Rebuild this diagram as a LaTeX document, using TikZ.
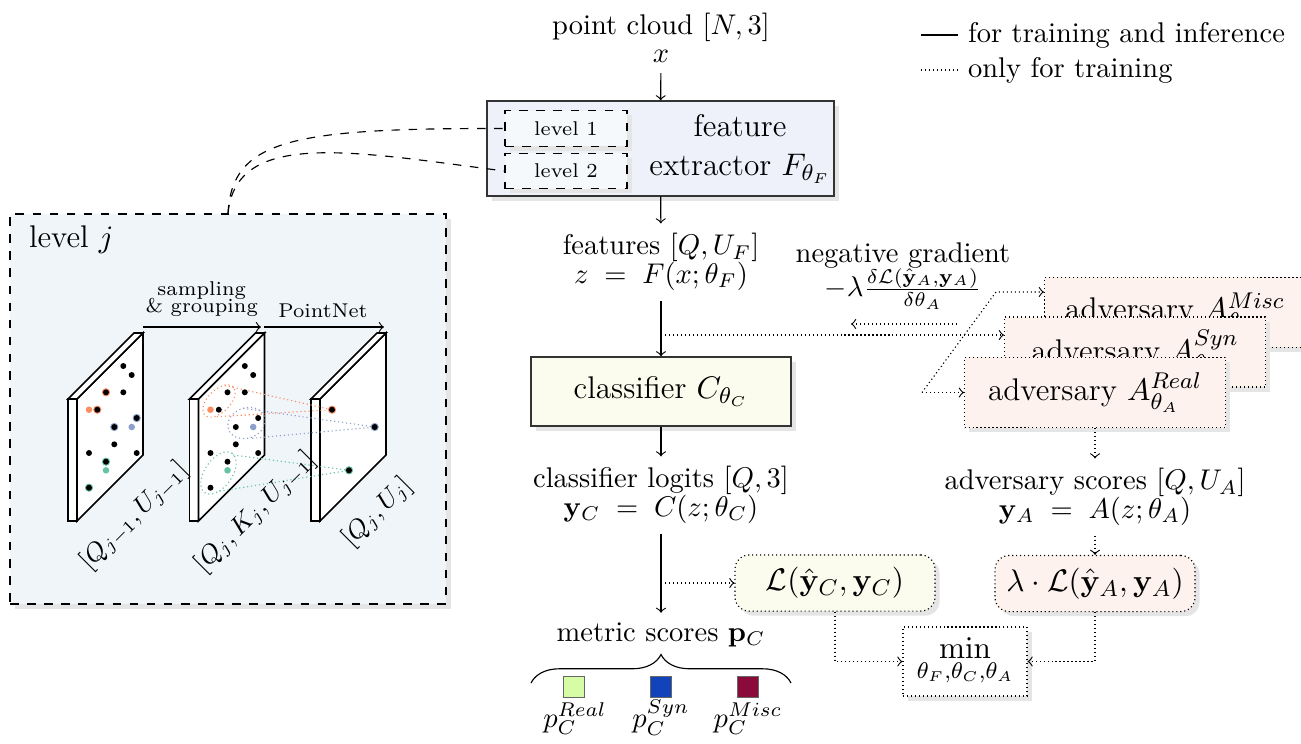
\documentclass[tikz,border=0pt]{standalone}
\usetikzlibrary{shadows,decorations.pathreplacing}

\definecolor{orangeC}{HTML}{FC8D62}
\definecolor{blueC}{HTML}{8DA0CB}
\definecolor{greenC}{HTML}{66C2A5}
\definecolor{levelbg}{RGB}{240,245,250}
\definecolor{extbg}{RGB}{238,240,250}
\definecolor{lvlbg}{RGB}{246,249,252}
\definecolor{clsbg}{RGB}{252,252,238}
\definecolor{advbg}{RGB}{253,242,237}
\definecolor{realC}{RGB}{214,252,165}
\definecolor{synC}{RGB}{17,68,187}
\definecolor{miscC}{RGB}{139,10,60}

\begin{document}
\begin{tikzpicture}[x=0.351pt,y=-0.351pt,
    shad/.style={drop shadow={shadow xshift=1.6pt,shadow yshift=-1.6pt,fill=black!10,opacity=1}},
    mainbox/.style={draw=black!80, line width=0.5pt, shad},
    lvlbox/.style={draw, dashed, fill=lvlbg, shad, minimum width=42.8pt, minimum height=12.4pt, font=\scriptsize},
    advbox/.style={draw, densely dotted, fill=advbg, shad, minimum width=91.6pt, minimum height=24.6pt, font=\fontsize{11}{13}\selectfont},
    lossbox/.style={draw, densely dotted, rounded corners=5pt, shad, minimum width=70.2pt, minimum height=19.7pt, font=\fontsize{11}{13}\selectfont},
    train/.style={densely dotted, ->},
    slab/.style={fill=white, draw, line width=0.6pt},
    sq/.style={draw=black!60, minimum size=7.4pt, inner sep=0pt},
    dimlabel/.style={rotate=45, anchor=north, font=\small}
]
\useasboundingbox (0,0) rectangle (1301,743);

% Legend
\node[anchor=west] (leg1) at (958,35) {for training and inference};
\node[anchor=west] (leg2) at (958,70) {only for training};
\coordinate (lg1) at (921,35);
\coordinate (lg2) at (921,70);
\draw (lg1) -- (leg1.west);
\draw[densely dotted] (lg2) -- (leg2.west);

% Level j detail
\node[draw, dashed, fill=levelbg, shad, minimum width=153pt, minimum height=136.9pt] (lvj) at (228,409) {};
\node[anchor=west, font=\fontsize{11}{13}\selectfont] (lvjt) at (19,240) {level $j$};

% Slabs
\foreach \sx in {68,189.5,311} {
    \draw[slab] (\sx,399) rectangle (\sx+9,521);
    \draw[slab] (\sx+9,399) -- (\sx+75,333) -- (\sx+75,455) -- (\sx+9,521) -- cycle;
    \draw[slab] (\sx,399) -- (\sx+66,333) -- (\sx+75,333) -- (\sx+9,399) -- cycle;
}

% Arrows between slabs
\coordinate (t1) at (143,327);
\coordinate (t2) at (261,327);
\coordinate (t3) at (384,327);
\draw[->] (t1) -- (t2);
\draw[->] ([xshift=1pt]t2) -- (t3);
\node[font=\scriptsize, align=center] (smp) at (201.7,299) {sampling\\[-2pt]\& grouping};
\node[font=\scriptsize] (pnet) at (323,311) {PointNet};

% Groups (sampling & grouping)
\draw[orangeC, densely dotted, shift={(219,401)}, rotate=45] (0,0) ellipse (7pt and 3.9pt);
\draw[orangeC, densely dotted] (225,385.5) -- (331.7,409.7) -- (216.5,416.7);
\draw[blueC, densely dotted, shift={(246.5,423)}, rotate=20] (0,0) ellipse (6.7pt and 5.3pt);
\draw[blueC, densely dotted] (243.3,408.3) -- (375,427) -- (251.7,438.3);
\draw[greenC, densely dotted, shift={(218.5,473)}, rotate=55] (0,0) ellipse (8.4pt and 4.8pt);
\draw[greenC, densely dotted] (233.3,455) -- (349.3,470.3) -- (216.7,491.7);

% Points
\foreach \dx/\dy/\col in {38/392.3/orangeC, 29.3/409.7/orangeC, 68.7/418/blueC, 46.3/427/blueC, 38/461.7/greenC, 21/487.7/greenC}
    \fill[\col] (68+\dx,\dy) circle (1.45pt);
\foreach \sx in {68,189.5} {
    \foreach \dx/\dy in {55.3/366, 63.7/375, 55.3/392.3, 46.3/444.3, 21/453, 68.7/453, 38/392.3, 29.3/409.7, 68.7/418, 46.3/427, 38/461.7, 21/487.7}
        \fill (\sx+\dx,\dy) circle (1.05pt);
    \foreach \dx/\dy/\col in {21/409.7/orangeC, 63.7/427/blueC, 38/470.3/greenC}
        \fill[\col] (\sx+\dx,\dy) circle (1.15pt);
}
\foreach \dx/\dy/\col in {21/409.7/orangeC, 63.7/427/blueC, 38/470.3/greenC} {
    \fill[\col] (311+\dx,\dy) circle (1.45pt);
    \fill (311+\dx,\dy) circle (1.05pt);
}

% Dimensions
\node[dimlabel] (dim1) at (118,500) {$[Q_{j-1},U_{j-1}]$};
\node[dimlabel] (dim2) at (239,496) {$[Q_j,K_j,U_{j-1}]$};
\node[dimlabel] (dim3) at (361,496) {$[Q_j,U_j]$};

% Main column
\node[align=center] (pc) at (661,38) {point cloud $[N,3]$\\[-2pt] $x$};
\node[mainbox, fill=extbg, minimum width=121.8pt, minimum height=33.3pt] (fe) at (660.5,148.5) {};
\node[align=center, font=\fontsize{11}{13.5}\selectfont] (fet) at (740,149) {feature\\ extractor $F_{\theta_F}$};
\node[lvlbox] (l1) at (566,128.5) {level 1};
\node[lvlbox] (l2) at (566,171) {level 2};
\node[align=center] (feat) at (661,262) {features $[Q,U_F]$\\[-2pt] $z\;=\;F(x;\theta_F)$};
\node[mainbox, fill=clsbg, minimum width=91.3pt, minimum height=24.2pt, font=\fontsize{11}{13}\selectfont] (cls) at (661,391.5) {classifier $C_{\theta_C}$};
\node[align=center] (logits) at (661,495) {classifier logits $[Q,3]$\\[-2pt] $\mathbf{y}_C\;=\;C(z;\theta_C)$};
\node (metric) at (661,635) {metric scores $\mathbf{p}_C$};

\draw[->] (pc) -- (fe);
\draw[->] (fe) -- (feat);
\draw[->] (feat) -- (cls);
\draw[->] (cls) -- (logits);
\draw[->] (logits) -- (metric);

% Levels of the extractor
\draw[dashed] (lvj.north) .. controls (232,140) and (290,128) .. (l1.west);
\draw[dashed] (lvj.north) .. controls (236,128) and (356,152) .. (l2.west);

% Metric scores
\draw[decorate, decoration={brace, amplitude=10pt}] (531,683) -- (791,683);
\node[sq, fill=realC] (sqr) at (574,687) {};
\node[sq, fill=synC] (sqs) at (661,687) {};
\node[sq, fill=miscC] (sqm) at (748,687) {};
\node[anchor=base] (pr) at (575,727) {$p^{Real}_C$};
\node[anchor=base] (ps) at (661,727) {$p^{Syn}_C$};
\node[anchor=base] (pm) at (748,727) {$p^{Misc}_C$};

% Adversaries
\node[advbox] (misc) at (1175,312.3) {adversary $A^{Misc}_{\theta_A}$};
\node[advbox] (syn) at (1135,352) {adversary $A^{Syn}_{\theta_A}$};
\node[advbox] (real) at (1095,392.5) {adversary $A^{Real}_{\theta_A}$};
\node[align=center] (neg) at (903,276) {negative gradient\\[-1pt] $-\lambda\frac{\delta\mathcal{L}(\hat{\mathbf{y}}_A,\mathbf{y}_A)}{\delta\theta_A}$};
\node[align=center] (ascores) at (1095,497) {adversary scores $[Q,U_A]$\\[-2pt] $\mathbf{y}_A\;=\;A(z;\theta_A)$};

% Losses
\node[lossbox, fill=clsbg] (lc) at (835,583) {$\mathcal{L}(\hat{\mathbf{y}}_C,\mathbf{y}_C)$};
\node[lossbox, fill=advbg] (la) at (1095,583.5) {$\lambda\cdot\mathcal{L}(\hat{\mathbf{y}}_A,\mathbf{y}_A)$};
\node[draw, densely dotted, fill=white, shad, minimum width=43.5pt, minimum height=24.2pt, inner sep=1pt, font=\fontsize{11}{13}\selectfont] (mn) at (965,661.5) {$\displaystyle\min_{\theta_F,\theta_C,\theta_A}$};

% Training only connections
\coordinate (f1) at (661,335);
\coordinate (f2) at (661,583);
\coordinate (g1) at (957,324);
\coordinate (g2) at (851,324);
\coordinate (d1) at (922,392.5);
\coordinate (d2) at (996,292);
\draw[train] (f1) -- (f1 -| syn.west);
\draw[train] (g1) -- (g2);
\draw[train] (d1) -- (real.west);
\draw[train] (d1) -- (d2) -- (d2 -| misc.west);
\draw[train] (real) -- (ascores);
\draw[train] (ascores) -- (la);
\draw[train] (f2) -- (lc);
\draw[train] (lc.south) |- (mn.west);
\draw[train] (la.south) |- (mn.east);

\end{tikzpicture}
\end{document}
